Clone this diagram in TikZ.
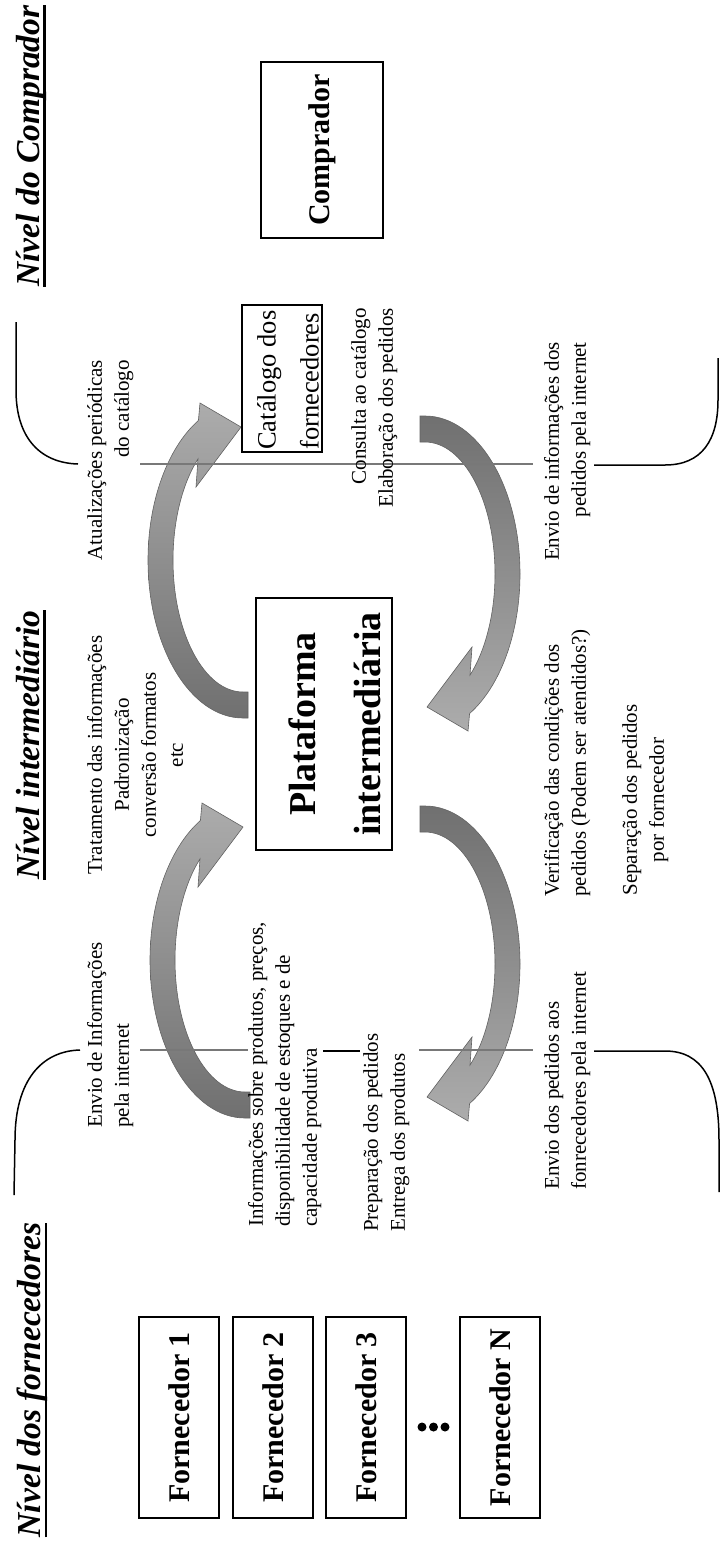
\documentclass[tikz,border=0pt]{standalone}
\usepackage{fontspec}
\setmainfont{Liberation Serif}
\definecolor{arrlight}{RGB}{172,172,172}
\definecolor{arrmid}{RGB}{112,112,112}
\definecolor{arrdark}{RGB}{98,98,98}
\definecolor{sepgray}{RGB}{120,120,120}
\begin{document}
\begin{tikzpicture}[x=1pt,y=-1pt,
  lbl/.style={rotate=90,inner sep=0pt,font=\fontsize{21}{27}\selectfont},
  ttl/.style={rotate=90,inner sep=0pt,anchor=north,font=\fontsize{33.5}{40}\selectfont\bfseries\itshape},
  fbox/.style={rotate=90,draw,line width=1.8pt,minimum width=201pt,minimum height=80pt,inner sep=0pt,font=\fontsize{30}{36}\selectfont\bfseries},
  blkup/.style={top color=arrlight,bottom color=arrmid,draw=arrdark,line width=0.6pt},
  blkdn/.style={top color=arrmid,bottom color=arrlight,draw=arrdark,line width=0.6pt},
  seplin/.style={draw=sepgray,line width=1.8pt},
  brk/.style={draw=black,line width=1.5pt},
  curvarr/.pic={\path[#1] (250,1118) -- (245,1118) .. controls (192.5,1118) and (150,1047.3) .. (150,960)
     .. controls (150,901.6) and (169.4,847.9) .. (200.4,820.5) -- (202,803) -- (243,827) -- (198,887)
     -- (200,858.9) .. controls (184.2,884.0) and (175,921.0) .. (175,960)
     .. controls (175,1032.9) and (206.3,1092) .. (245,1092) -- (250,1092) -- cycle;}
]
\fill[white] (0,0) rectangle (722,1545);
\useasboundingbox (0,0) rectangle (722,1545);

% block arrows
\pic at (0,0) {curvarr=blkup};
\pic at (-2,-400) {curvarr=blkup};
\pic[rotate=180] at (670,1924) {curvarr=blkdn};
\pic[rotate=180] at (670,1534) {curvarr=blkdn};

% boundary buyer / intermediate
\draw[brk] (78,464) .. controls (42,463) and (16,440) .. (16,390) -- (16,322);
\draw[seplin] (140,464) -- (533,464);
\draw[brk] (594,465) -- (665,465) .. controls (702,465) and (718,440) .. (718,400) -- (718,358);

% boundary intermediate / suppliers
\draw[brk] (80,1050) .. controls (42,1051) and (15,1080) .. (15,1140) -- (14,1195);
\draw[seplin] (140,1050) -- (248,1050);
\draw[line width=2.2pt] (323,1051) -- (360,1051);
\draw[seplin] (419,1050) -- (533,1050);
\draw[brk] (594,1051) -- (665,1051) .. controls (702,1051) and (719,1080) .. (719,1140) -- (719,1192);

% titles
\node[ttl] (tC) at (16,146) {Nível do Comprador};
\node[ttl] (tI) at (16,745) {Nível intermediário};
\node[ttl] (tF) at (17,1380) {Nível dos fornecedores};
\draw[line width=2.4pt] ([xshift=5pt]tC.base west) -- ([xshift=5pt]tC.base east);
\draw[line width=2.4pt] ([xshift=5pt]tI.base west) -- ([xshift=5pt]tI.base east);
\draw[line width=2.4pt] ([xshift=5pt]tF.base west) -- ([xshift=5pt]tF.base east);

% boxes
\node[fbox] (f1) at (179,1417.5) {Fornecedor 1};
\node[fbox] (f2) at (273,1417.5) {Fornecedor 2};
\node[fbox] (f3) at (366,1417.5) {Fornecedor 3};
\node[fbox] (fn) at (500,1417.5) {Fornecedor N};
\node[circle,fill,inner sep=0pt,minimum size=9pt] (d1) at (422,1427) {};
\node[circle,fill,inner sep=0pt,minimum size=9pt] (d2) at (433.5,1427) {};
\node[circle,fill,inner sep=0pt,minimum size=9pt] (d3) at (445,1427) {};

\node[rotate=90,draw,line width=1.8pt,minimum width=176pt,minimum height=122pt,inner sep=0pt,
      font=\fontsize{30}{36}\selectfont\bfseries] (comp) at (322,150) {Comprador};

\node[rotate=90,draw,line width=1.8pt,minimum width=252pt,minimum height=136pt] (plat) at (324,724) {};
\node[rotate=90,anchor=north,inner sep=0pt,align=center,font=\fontsize{38}{65}\selectfont\bfseries]
      (platTxt) at (289,724) {Plataforma\\intermediária};

\node[rotate=90,draw,line width=1.4pt,minimum width=147pt,minimum height=80pt] (cat) at (282,378.5) {};
\node[rotate=90,anchor=north west,inner sep=0pt,align=left,font=\fontsize{26.5}{43}\selectfont]
      (catT) at (257,450) {Catálogo dos\\fornecedores};

% labels
\node[lbl,anchor=north east,align=right] (lAtu) at (87,360) {Atualizações periódicas\\do catálogo};
\node[lbl,anchor=north east,align=right] (lCons) at (351,308) {Consulta ao catálogo\\Elaboração dos pedidos};
\node[lbl,anchor=north east,align=right] (lEnvC) at (544,342) {Envio de informações dos\\pedidos pela internet};
\node[lbl,anchor=north,align=center] (lTrat) at (87,755) {Tratamento das informações\\Padronização\\conversão formatos\\etc};
\node[lbl,anchor=north west,align=left] (lVer) at (544,897) {Verificação das condições dos\\pedidos (Podem ser atendidos?)};
\node[lbl,anchor=north,align=center] (lSep) at (622,800) {Separação dos pedidos\\por fornecedor};
\node[lbl,anchor=north west,align=left] (lEnvF) at (87,1128) {Envio de Informações\\pela internet};
\node[lbl,anchor=north west,align=left] (lInf) at (248,1227) {Informações sobre produtos, preços,\\disponibilidade de estoques e de\\capacidade produtiva};
\node[lbl,anchor=north west,align=left] (lPrep) at (363,1232) {Preparação dos pedidos\\Entrega dos produtos};
\node[lbl,anchor=north west,align=left] (lEnvP) at (544,1190) {Envio dos pedidos aos\\fonrecedores pela internet};
\end{tikzpicture}
\end{document}
